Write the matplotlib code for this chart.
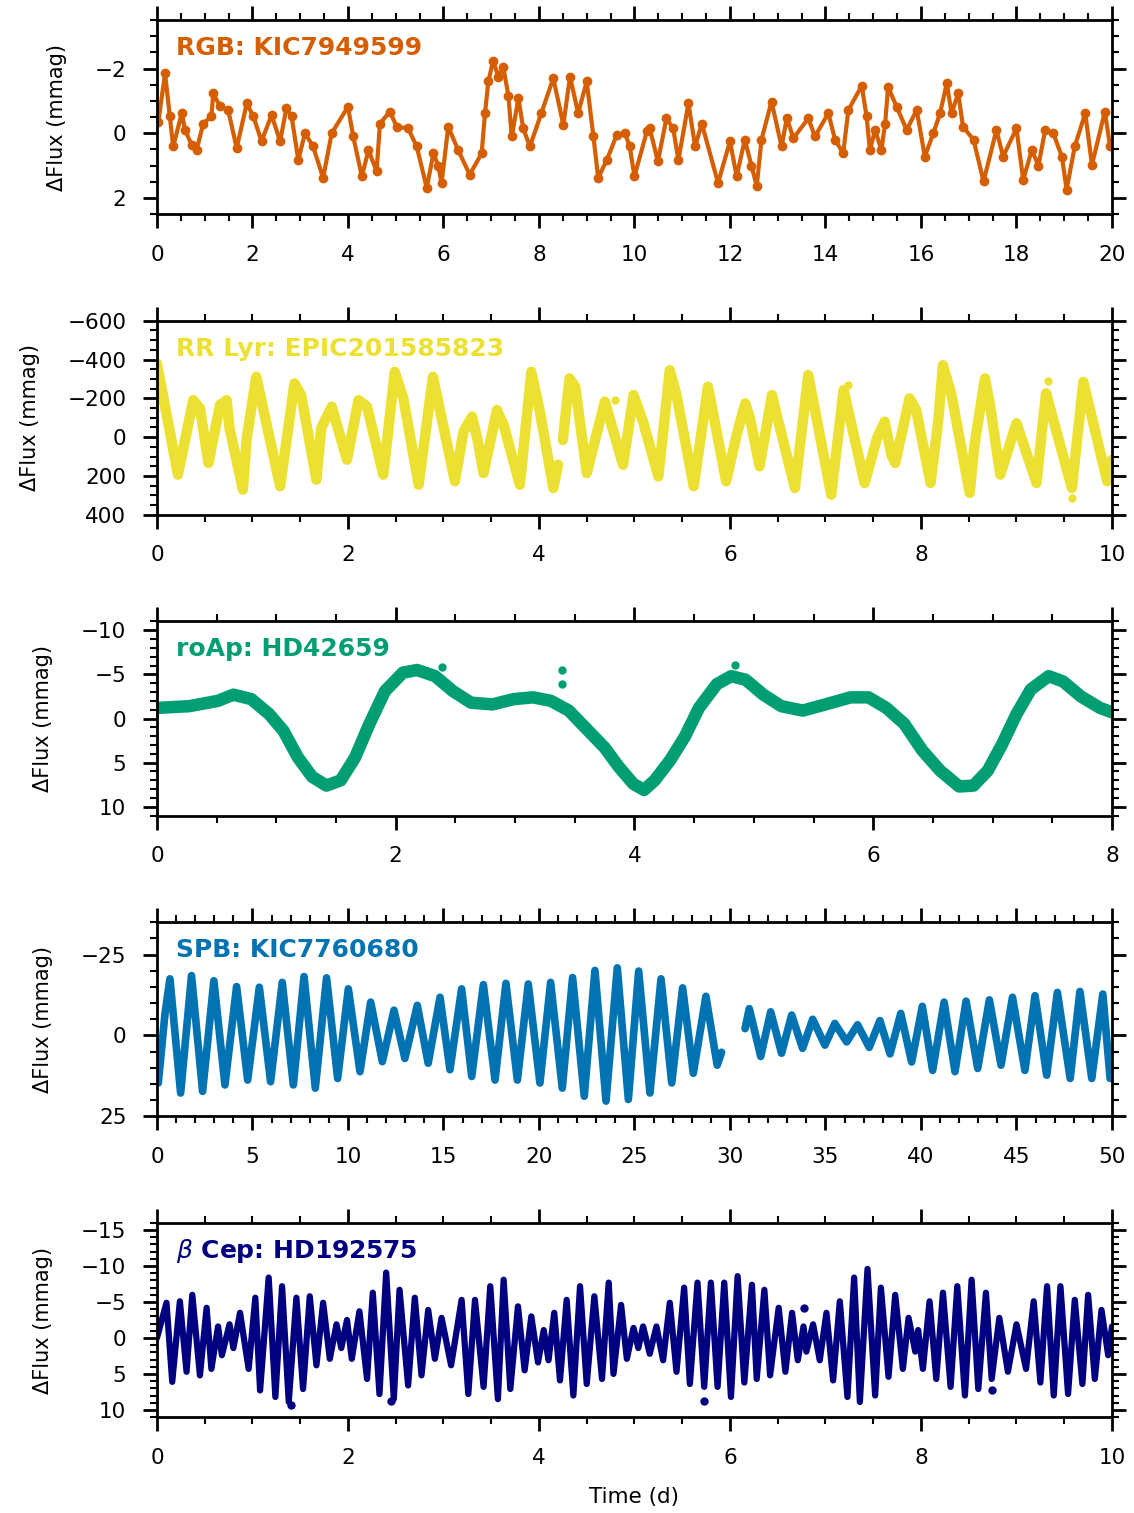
import matplotlib
matplotlib.use('Agg')
import matplotlib.pyplot as plt
import numpy as np
from matplotlib.ticker import AutoMinorLocator

# RGB: KIC7949599
rgb_t = [0.03, 0.17, 0.27, 0.34, 0.52, 0.59, 0.73, 0.83, 0.97, 1.14, 1.18, 1.32, 1.49, 1.67, 1.88,
         2.02, 2.19, 2.40, 2.58, 2.71, 2.82, 2.96, 3.10, 3.27, 3.48, 3.66, 4.00, 4.11, 4.29, 4.43,
         4.60, 4.67, 4.88, 5.02, 5.26, 5.44, 5.65, 5.79, 5.89, 5.96, 6.10, 6.31, 6.55, 6.80, 6.87,
         6.94, 7.04, 7.15, 7.25, 7.36, 7.43, 7.57, 7.67, 7.81, 8.05, 8.30, 8.51, 8.65, 8.82, 9.00,
         9.14, 9.24, 9.42, 9.63, 9.80, 9.90, 10.00, 10.26, 10.32, 10.49, 10.67, 10.81, 10.92, 11.13,
         11.27, 11.41, 11.75, 12.00, 12.14, 12.31, 12.45, 12.56, 12.66, 12.87, 13.08, 13.19, 13.33,
         13.64, 13.78, 14.06, 14.20, 14.37, 14.48, 14.76, 14.86, 14.93, 15.04, 15.17, 15.25, 15.31,
         15.49, 15.70, 15.91, 16.08, 16.26, 16.40, 16.54, 16.64, 16.78, 16.88, 17.10, 17.31, 17.58,
         17.72, 18.00, 18.14, 18.32, 18.46, 18.60, 18.77, 18.95, 19.05, 19.22, 19.44, 19.58, 19.85,
         19.96]
rgb_f = [-0.36, -1.85, -0.52, 0.41, -0.62, -0.10, 0.37, 0.52, -0.30, -0.52, -1.23, -0.83, -0.72, 0.46, -0.92,
         -0.52, 0.25, -0.56, 0.25, -0.77, -0.52, 0.83, 0.00, 0.41, 1.38, 0.00, -0.82, 0.10, 1.33, 0.53,
         1.17, -0.30, -0.67, -0.20, -0.15, 0.41, 1.69, 0.62, 1.00, 1.54, -0.20, 0.53, 1.28, 0.62, -0.62,
         -1.60, -2.24, -1.75, -2.06, -1.16, 0.10, -1.08, -0.15, 0.41, -0.62, -1.70, -0.26, -1.75, -0.62, -1.60,
         0.10, 1.38, 0.83, 0.05, 0.00, 0.41, 1.33, -0.06, -0.15, 0.87, -0.46, -0.15, 0.83, -0.92,
         0.41, -0.30, 1.54, 0.25, 1.33, 0.20, 1.00, 1.64, 0.20, -0.98, 0.41, -0.46, 0.15,
         -0.46, 0.10, -0.62, 0.20, 0.62, -0.72, -1.47, -0.52, 0.52, -0.10, 0.52, -0.30, -1.43,
         -0.82, -0.10, -0.72, 0.72, 0.00, -0.62, -1.54, -0.62, -1.23, -0.20, 0.20, 1.49, -0.10,
         0.72, -0.15, 1.44, 0.52, 1.00, -0.10, 0.00, 0.72, 1.74, 0.41, -0.62, 0.98, -0.67,
         0.41]

# RR Lyr: EPIC201585823
rr_t = [0.00, 0.22, 0.38, 0.45, 0.54, 0.66, 0.73, 0.76, 0.90, 0.94, 1.04, 1.29, 1.44, 1.51, 1.67,
        1.72, 1.83, 1.99, 2.11, 2.20, 2.37, 2.49, 2.58, 2.74, 2.89, 3.12, 3.21, 3.30, 3.36, 3.42,
        3.56, 3.63, 3.80, 3.92, 4.01, 4.15, 4.20, np.nan, 4.25, 4.32, 4.38, 4.50, 4.69, 4.88, 4.99,
        5.09, 5.25, 5.37, 5.44, 5.62, 5.77, 5.96, 6.07, 6.16, 6.21, 6.31, 6.44, 6.49, 6.68, 6.82,
        7.06, 7.19, 7.41, 7.54, 7.62, 7.69, 7.73, 7.88, 7.95, 8.10, 8.18, 8.23, 8.32, 8.51, 8.56,
        8.67, 8.72, 8.83, 9.00, 9.21, 9.28, 9.31, 9.58, 9.70, 9.95, 10.00]
rr_f = [-379, 193, -191, -149, 133, -166, -191, -46, 270, 5, -311, 253, -277, -217, 219,
        -46, -157, 116, -191, -157, 193, -337, -200, 245, -311, 227, -29, -106, 22, 185,
        -140, -63, 245, -337, -132, 262, 142, np.nan, 14, -303, -260, 185, -183, 142, -217,
        -80, 202, -345, -217, 253, -260, 227, -12, -174, -97, 150, -217, -114, 262, -320,
        296, -243, 236, 5, -80, 91, 133, -200, -140, 236, -80, -371, -217, 287, 40,
        -303, -174, 193, -72, 236, -97, -226, 262, -285, 227, 116]
rr_out_t = [4.80, 7.24, 9.33, 9.58]
rr_out_f = [-191, -268, -289, 313]

# roAp: HD42659
roap_t = [0.00, 0.27, 0.51, 0.64, 0.79, 0.94, 1.06, 1.18, 1.30, 1.42, 1.54, 1.66, 1.78, 1.91, 2.06,
          2.18, 2.33, 2.48, 2.63, 2.81, 2.99, 3.15, 3.30, 3.45, 3.60, 3.75, 3.87, 3.99, 4.08, 4.17,
          4.30, 4.42, 4.54, 4.69, 4.81, 4.93, 5.08, 5.23, 5.41, 5.60, 5.81, 5.96, 6.11, 6.26, 6.41,
          6.56, 6.72, 6.84, 6.96, 7.08, 7.20, 7.32, 7.47, 7.59, 7.74, 7.90, 8.00]
roap_f = [-1.2, -1.4, -2.0, -2.7, -2.2, -0.5, 1.4, 4.4, 6.6, 7.6, 7.0, 4.4, 0.6, -3.1, -5.2,
          -5.5, -4.8, -3.1, -1.8, -1.6, -2.2, -2.4, -2.0, -0.9, 1.2, 3.3, 5.5, 7.4, 8.1, 7.0,
          4.7, 2.1, -1.2, -3.9, -4.8, -4.4, -2.7, -1.4, -0.9, -1.6, -2.4, -2.4, -1.2, 0.6, 3.6,
          5.9, 7.7, 7.6, 5.9, 2.9, -0.5, -3.3, -4.8, -4.2, -2.5, -1.2, -0.7]
roap_out_t = [2.39, 3.39, 3.39, 4.84]
roap_out_f = [-5.8, -5.5, -3.9, -6.1]

# SPB: KIC7760680
spb_t = [0.07, 0.42, 0.68, 1.24, 1.81, 2.39, 2.98, 3.56, 4.17, 4.75, 5.36, 5.95, 6.56, 7.14, 7.70,
         8.29, 8.88, 9.46, 10.02, 10.63, 11.19, 11.80, 12.41, 12.98, 13.63, 14.20, 14.82, 15.34,
         15.95, 16.48, 17.09, 17.70, 18.27, 18.87, 19.44, 20.05, 20.61, 21.22, 21.76, 22.37, 22.93,
         23.51, 24.10, 24.68, 25.22, 25.81, 26.39, 26.95, 27.52, 28.08, 28.74, 29.33, 29.56, np.nan,
         30.79, 31.01, 31.61, 32.13, 32.70, 33.23, 33.80, 34.33, 34.97, 35.49, 36.11, 36.68, 37.29,
         37.85, 38.38, 38.94, 39.51, 40.07, 40.61, 41.21, 41.78, 42.36, 42.97, 43.58, 44.19, 44.79,
         45.44, 45.97, 46.58, 47.14, 47.81, 48.32, 48.94, 49.52, 49.90]
spb_f = [14.7, -6.7, -17.5, 17.8, -18.5, 17.3, -16.9, 15.3, -15.1, 13.8, -14.9, 14.3, -16.4, 15.3, -18.2,
         16.3, -17.8, 13.3, -14.4, 11.2, -10.3, 8.1, -7.8, 7.1, -9.3, 8.6, -11.8, 10.6,
         -14.4, 12.7, -15.7, 13.8, -16.1, 13.8, -15.9, 14.7, -16.4, 16.3, -17.9, 18.8, -20.1,
         20.3, -20.9, 19.8, -19.9, 17.8, -17.5, 14.7, -14.7, 11.7, -12.1, 9.2, 5.2, np.nan,
         -2.1, -8.3, 6.5, -7.3, 5.5, -6.3, 4.0, -5.0, 3.0, -3.7, 2.0, -3.3, 3.7,
         -4.6, 5.7, -6.8, 8.2, -9.0, 10.8, -10.3, 11.2, -10.6, 10.2, -11.0, 9.2, -11.8,
         10.8, -12.3, 12.3, -13.3, 13.3, -13.6, 13.3, -12.8, 13.3]

# beta Cep: HD192575
bcep_t = [0.00, 0.10, 0.16, 0.24, 0.31, 0.37, 0.45, 0.52, 0.57, 0.64, 0.68, 0.76, 0.80, 0.87, 0.96,
          1.03, 1.08, 1.17, 1.24, 1.31, 1.38, 1.46, 1.53, 1.60, 1.67, 1.74, 1.81, 1.88, 1.93, 1.99,
          2.04, 2.12, 2.20, 2.26, 2.33, 2.40, 2.48, 2.54, 2.63, 2.70, 2.77, 2.84, 2.91, 2.98, 3.08,
          3.19, 3.26, 3.33, 3.42, 3.49, 3.57, 3.63, 3.70, 3.78, 3.85, 3.92, 3.99, 4.05, 4.10, 4.16,
          4.22, 4.29, 4.36, 4.43, 4.50, 4.58, 4.66, 4.73, 4.78, 4.86, 4.92, 4.99, 5.04, 5.09, 5.16,
          5.23, 5.30, 5.37, 5.44, 5.52, 5.58, 5.66, 5.73, 5.80, 5.87, 5.94, 6.01, 6.08, 6.15, 6.23,
          6.28, 6.36, 6.42, 6.51, 6.58, 6.65, 6.71, 6.77, 6.80, 6.87, 6.94, 7.01, 7.08, 7.15, 7.23,
          7.30, 7.36, 7.44, 7.52, 7.58, 7.66, 7.73, 7.81, 7.87, 7.94, 7.97, 8.02, 8.09, 8.16, 8.23,
          8.31, 8.38, 8.46, 8.53, 8.60, 8.68, 8.74, 8.82, 8.91, 9.00, 9.10, 9.18, 9.25, 9.32, 9.39,
          9.46, 9.54, 9.61, 9.69, 9.75, 9.82, 9.89, 9.96, 10.00]
bcep_f = [0.0, -4.9, 6.1, -5.1, 4.7, -6.0, 5.2, -4.2, 4.3, -1.6, 2.4, -1.9, 1.4, -3.5, 4.3,
          -5.6, 7.3, -8.4, 8.2, -7.2, 8.9, -5.6, 7.1, -5.8, 3.8, -4.9, 2.9, -1.9, 1.4, -2.5,
          2.9, -3.7, 5.7, -6.3, 7.8, -9.1, 8.5, -6.7, 6.6, -5.6, 5.2, -3.9, 2.9, -2.8, 3.8,
          -5.3, 7.8, -5.3, 6.8, -7.2, 8.5, -8.1, 7.1, -4.4, 4.5, -3.0, 3.4, -1.1, 3.1, -3.5,
          5.9, -5.3, 8.0, -7.2, 6.4, -5.8, 5.7, -7.7, 5.0, -4.6, 2.9, -1.4, 1.4, -1.6, 2.2,
          -1.6, 3.1, -4.9, 4.7, -7.0, 6.4, -7.7, 6.8, -7.7, 6.8, -7.7, 8.2, -8.6, 6.2, -7.4,
          5.7, -6.7, 5.2, -4.2, 4.7, -3.5, 3.1, -1.6, 1.9, -1.9, 3.1, -3.5, 5.9, -5.1, 8.2,
          -8.4, 8.9, -9.6, 8.0, -7.0, 5.4, -6.0, 4.3, -2.8, 1.9, -1.1, 4.3, -5.1, 5.7, -6.3,
          6.8, -7.2, 8.0, -8.1, 7.1, -6.3, 5.7, -2.8, 4.7, -1.9, 4.3, -5.1, 6.2, -7.2, 8.0,
          -7.2, 7.8, -5.3, 6.4, -6.0, 5.7, -3.9, 2.4, -1.6]
bcep_out_t = [1.40, 2.45, 5.73, 6.78, 8.74]
bcep_out_f = [9.3, 8.7, 8.7, -4.2, 7.3]

labels = ['RGB: KIC7949599', 'RR Lyr: EPIC201585823', 'roAp: HD42659',
          'SPB: KIC7760680', r'$\beta$ Cep: HD192575']
colors = ['#D55E00', '#ECE133', '#029E73', '#0173B2', '#000080']
xlims = [20, 10, 8, 50, 10]
ylims = [(2.5, -3.5), (400, -600), (11, -11), (25, -35), (11, -16)]
yticks = [[-2, 0, 2], [-600, -400, -200, 0, 200, 400], [-10, -5, 0, 5, 10],
          [-25, 0, 25], [-15, -10, -5, 0, 5, 10]]
xticks = [range(0, 21, 2), range(0, 11, 2), range(0, 9, 2), range(0, 51, 5), range(0, 11, 2)]

plt.rcParams['font.size'] = 15
plt.rcParams['axes.linewidth'] = 2

fig, axs = plt.subplots(5, 1, figsize=(11.34, 15.13), dpi=100)
plt.subplots_adjust(left=0.1384, right=0.9806, top=0.9868, bottom=0.0634, hspace=0.549)

ax = axs[0]
ax.plot(rgb_t, rgb_f, '-o', color=colors[0], lw=3, ms=6)

ax = axs[1]
ax.plot(rr_t, rr_f, '-', color=colors[1], lw=7.5, solid_joinstyle='round', solid_capstyle='round')
ax.plot(rr_out_t, rr_out_f, 'o', color=colors[1], ms=5)

ax = axs[2]
ax.plot(roap_t, roap_f, '-', color=colors[2], lw=9, solid_joinstyle='round', solid_capstyle='round')
ax.plot(roap_out_t, roap_out_f, 'o', color=colors[2], ms=5)

ax = axs[3]
ax.plot(spb_t, spb_f, '-', color=colors[3], lw=5.5, solid_joinstyle='round', solid_capstyle='round')

ax = axs[4]
ax.plot(bcep_t, bcep_f, '-', color=colors[4], lw=4.5, solid_joinstyle='round', solid_capstyle='round')
ax.plot(bcep_out_t, bcep_out_f, 'o', color=colors[4], ms=5)

for i, ax in enumerate(axs):
    ax.set_xlim(0, xlims[i])
    ax.set_ylim(*ylims[i])
    ax.set_xticks(list(xticks[i]))
    ax.set_yticks(yticks[i])
    ax.xaxis.set_minor_locator(AutoMinorLocator())
    ax.yaxis.set_minor_locator(AutoMinorLocator())
    ax.tick_params(which='both', direction='out', top=True, right=True,
                   labeltop=False, labelright=False, labelsize=15.5)
    ax.tick_params(which='major', length=10, width=2, pad=12)
    ax.tick_params(which='minor', length=5, width=1.5)
    ax.set_ylabel('ΔFlux (mmag)', fontsize=15, labelpad=20)
    ax.text(0.02, 0.82, labels[i], transform=ax.transAxes, color=colors[i],
            fontsize=18, fontweight='bold', va='baseline', ha='left')

axs[-1].set_xlabel('Time (d)', fontsize=15.5, labelpad=14)

plt.savefig('out.png', dpi=100)
